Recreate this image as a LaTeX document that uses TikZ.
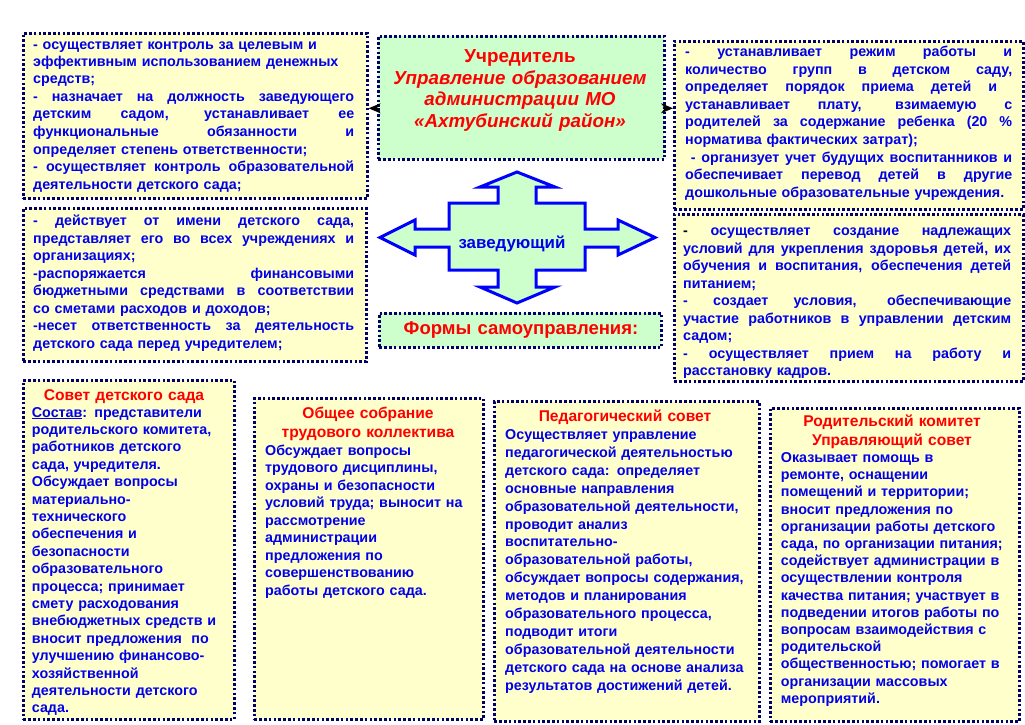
\documentclass[tikz,border=0pt]{standalone}
\usepackage{fontspec}
\setmainfont{Liberation Sans}
\usetikzlibrary{arrows.meta,calc}
\definecolor{navy}{RGB}{0,0,102}
\definecolor{paleyellow}{RGB}{255,255,204}
\definecolor{palegreen}{RGB}{204,255,204}
\definecolor{textblue}{RGB}{0,0,235}
\definecolor{titlered}{RGB}{255,0,0}
\definecolor{crossblue}{RGB}{0,0,255}
% one justified line of a box
\newcommand{\jl}[1]{\makebox[\hsize][s]{\spaceskip=0pt\xspaceskip=0pt #1}\\}

\begin{document}
\begin{tikzpicture}[x=1pt,y=-1pt,
    panel/.style={draw=navy,line width=2.6pt,dash pattern=on 2.6pt off 2.2pt,
      fill=paleyellow,anchor=north west,inner sep=0pt},
    greenpanel/.style={panel,fill=palegreen},
    body/.style={anchor=base west,inner sep=0pt,align=left,text=textblue,
      font=\fontsize{14.3}{17.5}\selectfont\bfseries},
    head/.style={anchor=base,inner sep=0pt,align=center,text=titlered,
      font=\fontsize{15.6}{19.2}\selectfont\bfseries},
    bighead/.style={head,font=\fontsize{18.8}{21.7}\selectfont\bfseries},
    >={Stealth[length=12pt,width=10pt]}
  ]
  \useasboundingbox[fill=white] (0,0) rectangle (1025,725);

  % top row
  \node[panel,minimum width=344pt,minimum height=165pt] (kontrol) at (22,32) {};
  \node[greenpanel,minimum width=286pt,minimum height=123pt] (uchr) at (377,35) {};
  \node[panel,minimum width=349pt,minimum height=168pt] (rezhim) at (673,40) {};
  % middle row
  \node[panel,minimum width=343pt,minimum height=153pt] (deistv) at (22,207) {};
  \node[panel,minimum width=349pt,minimum height=167pt] (uslov) at (673,213) {};
  \node[greenpanel,minimum width=282pt,minimum height=34pt] (formy) at (378,312) {};
  % bottom row
  \node[panel,minimum width=211pt,minimum height=339pt] (sovet) at (22,379) {};
  \node[panel,minimum width=229pt,minimum height=321pt] (sobr) at (253,397) {};
  \node[panel,minimum width=265pt,minimum height=320pt] (ped) at (493,400) {};
  \node[panel,minimum width=249pt,minimum height=313pt] (rod) at (769,407) {};

  \draw[->,line width=0.8pt] ($(uchr.west)+(3,10.5)$) -- ($(kontrol.east)+(0,-7.5)$);
  \draw[->,line width=0.8pt] ($(uchr.east)+(-3,10.5)$) -- ($(rezhim.west)+(0,-17)$);

  % cross arrow
  \draw[draw=crossblue,fill=palegreen,line width=3pt,line join=miter]
    (517,172) -- (555,187) -- (536,187) -- (536,203) -- (585,203) -- (585,229)
    -- (618,229) -- (618,220) -- (655,237.5) -- (618,255) -- (618,247) -- (585,247)
    -- (585,270) -- (536,270) -- (536,287) -- (555,287) -- (517,303) -- (480,287)
    -- (498,287) -- (498,270) -- (449,270) -- (449,247) -- (415,247) -- (415,255)
    -- (380,237.5) -- (415,220) -- (415,229) -- (449,229) -- (449,203) -- (498,203)
    -- (498,187) -- (480,187) -- cycle;
  \node[anchor=base,inner sep=0pt,text=textblue,font=\fontsize{16.9}{18}\selectfont\bfseries]
    (zav) at (512,248) {заведующий};

  \node[bighead,text width=280pt] (uchrT) at (520,62.5) {Учредитель\\
    \itshape Управление образованием\\ \itshape администрации МО\\ \itshape «Ахтубинский район»};
  \node[bighead,font=\fontsize{18.5}{21.7}\selectfont\bfseries,text width=280pt] (formyT) at (521,334.5) {Формы самоуправления:};

  \node[body,text width=321pt] (kontrolT) at (33,49) {- осуществляет контроль за целевым и\\
    эффективным использованием денежных\\
    средств;\\
    \jl{- назначает на должность заведующего}
    \jl{детским садом, устанавливает ее}
    \jl{функциональные обязанности и}
    определяет степень ответственности;\\
    \jl{- осуществляет контроль образовательной}
    деятельности детского сада;};

  \node[body,text width=327pt] (rezhimT) at (685,57) {\jl{- устанавливает режим работы и}
    \jl{количество групп в детском саду,}
    \makebox[\dimexpr\hsize-15pt][s]{\spaceskip=0pt\xspaceskip=0pt определяет порядок приема детей и}\\
    \jl{устанавливает плату, взимаемую с}
    \jl{родителей за содержание ребенка (20 \%}
    норматива фактических затрат);\\
    \jl{\ - организует учет будущих воспитанников и}
    \jl{обеспечивает перевод детей в другие}
    дошкольные образовательные учреждения.};

  \node[body,text width=321pt] (deistvT) at (33,225.5) {\jl{- действует от имени детского сада,}
    \jl{представляет его во всех учреждениях и}
    организациях;\\
    \jl{-распоряжается финансовыми}
    \jl{бюджетными средствами в соответствии}
    со сметами расходов и доходов;\\
    \jl{-несет ответственность за деятельность}
    детского сада перед учредителем;};

  \node[body,text width=328pt] (uslovT) at (683,235.5) {\jl{\textcolor{black}{-} осуществляет создание надлежащих}
    \jl{условий для укрепления здоровья детей, их}
    \jl{обучения и воспитания, обеспечения детей}
    питанием;\\
    \jl{- создает условия, обеспечивающие}
    \jl{участие работников в управлении детским}
    садом;\\
    \jl{- осуществляет прием на работу и}
    расстановку кадров.};

  % forms of self-government
  \node[head,text width=205pt] (sovetT) at (124,400) {Совет детского сада};
  \node[body,text width=200pt,font=\fontsize{14.3}{17.4}\selectfont\bfseries] (sovetB) at (31.7,417) {\underline{Состав}: представители\\
    родительского комитета,\\ работников детского\\ сада, учредителя.\\
    Обсуждает вопросы\\ материально-\\ технического\\ обеспечения и\\
    безопасности\\ образовательного\\ процесса; принимает\\ смету расходования\\
    внебюджетных средств и\\ вносит предложения~ по\\ улучшению финансово-\\
    хозяйственной\\ деятельности детского\\ сада.};

  \node[head,text width=220pt] (sobrT) at (368,418.5) {Общее собрание\\ трудового коллектива};
  \node[body,text width=215pt] (sobrB) at (265,455) {Обсуждает вопросы\\
    трудового дисциплины,\\ охраны и безопасности\\ условий труда; выносит на\\
    рассмотрение\\ администрации\\ предложения по\\ совершенствованию\\
    работы детского сада.};

  \node[head,text width=250pt] (pedT) at (625,421.5) {Педагогический совет};
  \node[body,text width=250pt,font=\fontsize{14.3}{17.9}\selectfont\bfseries] (pedB) at (505,439.5) {Осуществляет управление\\
    педагогической деятельностью\\ детского сада: определяет\\ основные направления\\
    образовательной деятельности,\\ проводит анализ\\ воспитательно-\\
    образовательной работы,\\ обсуждает вопросы содержания,\\ методов и планирования\\
    образовательного процесса,\\ подводит итоги\\ образовательной деятельности\\
    детского сада на основе анализа\\ результатов достижений детей.};

  \node[head,text width=240pt] (rodT) at (892,426) {Родительский комитет\\ Управляющий совет};
  \node[body,text width=235pt,font=\fontsize{14.3}{17.2}\selectfont\bfseries] (rodB) at (780.7,462.5) {Оказывает помощь в\\
    ремонте, оснащении\\ помещений и территории;\\ вносит предложения по\\
    организации работы детского\\ сада, по организации питания;\\
    содействует администрации в\\ осуществлении контроля\\
    качества питания; участвует в\\ подведении итогов работы по\\
    вопросам взаимодействия с\\ родительской\\ общественностью; помогает в\\
    организации массовых\\ мероприятий.};
\end{tikzpicture}
\end{document}
